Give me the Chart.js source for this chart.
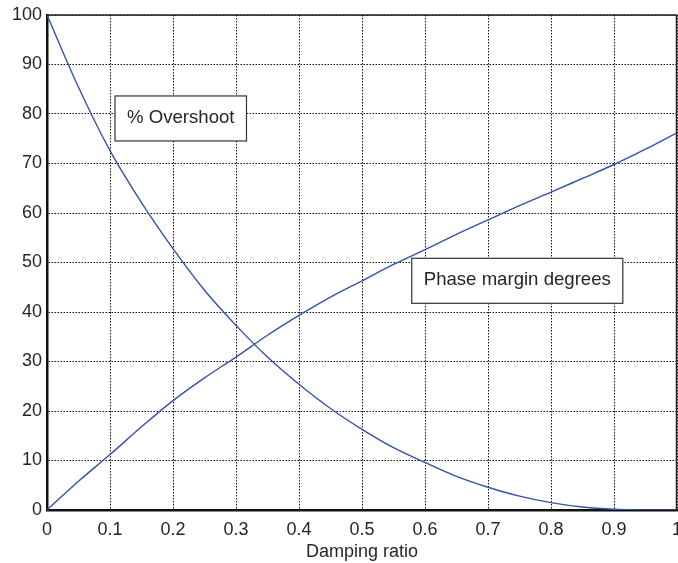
<!DOCTYPE html>
<html>
<head>
<meta charset="utf-8">
<script src="https://cdn.jsdelivr.net/npm/chart.js@4"></script>
<style>
  html, body { margin: 0; padding: 0; background: #fff; }
  #wrap { width: 678px; height: 563px; }
</style>
</head>
<body>
<div id="wrap"><canvas id="plot"></canvas></div>
<script>
// damping ratio samples
var damping = [0, 0.05, 0.1, 0.15, 0.2, 0.25, 0.3, 0.35, 0.4, 0.45, 0.5,
               0.55, 0.6, 0.65, 0.7, 0.75, 0.8, 0.85, 0.9, 0.95, 1];
// % overshoot
var overshoot = [100, 85.4, 72.6, 62.1, 52.8, 44.4, 37.3, 30.9, 25.4, 20.5, 16.3,
                 12.6, 9.6, 6.8, 4.6, 2.8, 1.5, 0.6, 0.15, 0.02, 0];
// phase margin (degrees)
var phaseMargin = [0, 5.8, 11.2, 16.8, 22.1, 26.7, 30.9, 35.3, 39.3, 43.0, 46.3,
                   49.6, 52.6, 55.7, 58.6, 61.5, 64.2, 67.0, 69.8, 72.9, 76.2];
var yTicks = [0, 10, 20, 30, 40, 50, 60, 70, 80, 90, 100];

// text boxes: [label, x, y] in data units (left of text, middle of text)
var notes = [
  ['% Overshoot', 0.127, 79.2],
  ['Phase margin degrees', 0.598, 46.4]
];

var lineColor = 'rgb(52, 82, 170)';
var textColor = '#262626';
var font = { family: '"Liberation Sans", Arial, sans-serif', size: 18 };
var noteSize = 18.6;

function pairs(xs, ys) {
  return xs.map(function (x, i) { return { x: x, y: ys[i] }; });
}

var frameAndNotes = {
  id: 'frameAndNotes',
  afterDraw: function (chart) {
    var c = chart.ctx, a = chart.chartArea;
    var sx = chart.scales.x, sy = chart.scales.y;
    c.save();
    // top and right edges of the box
    c.strokeStyle = '#222';
    c.lineWidth = 1.5;
    c.beginPath();
    c.moveTo(a.left, a.top);
    c.lineTo(a.right - 0.5, a.top);
    c.lineTo(a.right - 0.5, a.bottom);
    c.stroke();
    // labels with boxes
    c.font = noteSize + 'px ' + font.family;
    c.textBaseline = 'middle';
    notes.forEach(function (n) {
      var px = sx.getPixelForValue(n[1]);
      var py = sy.getPixelForValue(n[2]);
      var w = c.measureText(n[0]).width;
      c.fillStyle = '#fff';
      c.fillRect(px - 12, py - 22, w + 24, 45);
      c.strokeStyle = '#333';
      c.lineWidth = 1.2;
      c.strokeRect(px - 12, py - 22, w + 24, 45);
      c.fillStyle = textColor;
      c.fillText(n[0], px, py);
    });
    c.restore();
  }
};

new Chart(document.getElementById('plot'), {
  type: 'line',
  data: {
    datasets: [
      {
        label: '% Overshoot',
        data: pairs(damping, overshoot),
        borderColor: lineColor,
        borderWidth: 1.4,
        pointRadius: 0,
        fill: false,
        cubicInterpolationMode: 'monotone'
      },
      {
        label: 'Phase margin degrees',
        data: pairs(damping, phaseMargin),
        borderColor: lineColor,
        borderWidth: 1.4,
        pointRadius: 0,
        fill: false,
        cubicInterpolationMode: 'monotone'
      }
    ]
  },
  options: {
    responsive: true,
    maintainAspectRatio: false,
    animation: false,
    layout: { padding: { top: 15, right: 1, left: 0, bottom: 0 } },
    plugins: {
      legend: { display: false },
      tooltip: { enabled: false }
    },
    scales: {
      x: {
        type: 'linear',
        min: 0,
        max: 1,
        afterFit: function (s) {
          s.height = 53;
          s.paddingLeft = 0;
          s.paddingRight = 0;
        },
        ticks: {
          stepSize: 0.1,
          color: textColor,
          font: font,
          padding: 9,
          maxRotation: 0,
          callback: function (v) { return +v.toFixed(1); }
        },
        grid: { color: '#111', lineWidth: 1, drawTicks: false },
        border: { display: true, color: '#111', width: 2.5, dash: [1.5, 1.5] },
        title: {
          display: true,
          text: 'Damping ratio',
          color: textColor,
          font: font,
          padding: { top: 0, bottom: 0 }
        }
      },
      y: {
        min: 0,
        max: 100,
        afterFit: function (s) {
          s.width = 47;
          s.paddingTop = 0;
          s.paddingBottom = 0;
        },
        afterBuildTicks: function (s) {
          s.ticks = yTicks.map(function (v) { return { value: v }; });
        },
        ticks: { color: textColor, font: font, padding: 5 },
        grid: { color: '#111', lineWidth: 1, drawTicks: false },
        border: { display: true, color: '#111', width: 2.5, dash: [1.5, 1.5] }
      }
    }
  },
  plugins: [frameAndNotes]
});
</script>
</body>
</html>
